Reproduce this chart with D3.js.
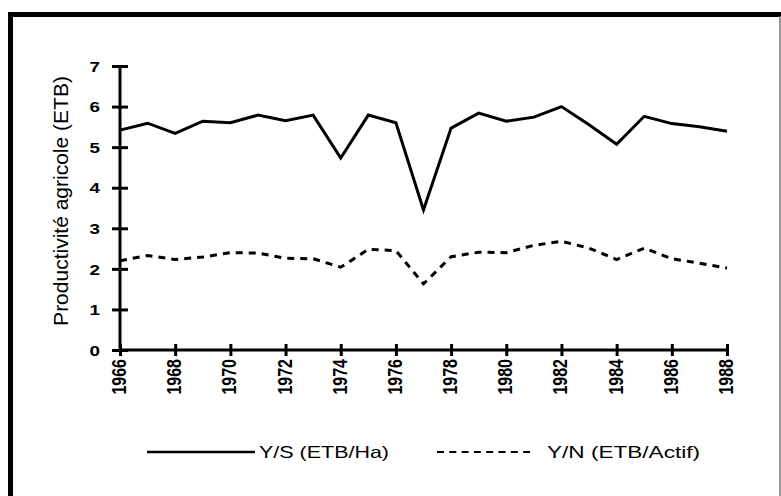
<!DOCTYPE html>
<html><head><meta charset="utf-8">
<script src="https://cdn.jsdelivr.net/npm/d3@7"></script>
<style>html,body{margin:0;padding:0;background:#fff;}svg{display:block;}</style>
</head><body>
<script>
const years = [1966,1967,1968,1969,1970,1971,1972,1973,1974,1975,1976,1977,1978,1979,1980,1981,1982,1983,1984,1985,1986,1987,1988];
const ySeries = [5.42,5.59,5.34,5.64,5.6,5.79,5.65,5.79,4.73,5.79,5.6,3.45,5.47,5.84,5.64,5.74,6.0,5.55,5.07,5.76,5.58,5.5,5.39];
const nSeries = [2.2,2.33,2.23,2.29,2.4,2.39,2.26,2.25,2.04,2.48,2.45,1.63,2.3,2.41,2.4,2.58,2.68,2.51,2.23,2.51,2.25,2.14,2.02];
const yTicks = [0,1,2,3,4,5,6,7];
const xTicks = [1966,1968,1970,1972,1974,1976,1978,1980,1982,1984,1986,1988];
const seriesNames = ["Y/S (ETB/Ha)", "Y/N (ETB/Actif)"];
const yTitle = "Productivité agricole (ETB)";

const W = 781, H = 496;
const svg = d3.select("body").append("svg").attr("width", W).attr("height", H);
const font = "'Liberation Sans', Arial, sans-serif";

// frame
svg.append("line").attr("x1", 8).attr("x2", 781).attr("y1", 14.5).attr("y2", 14.5).attr("stroke", "#000").attr("stroke-width", 5);
svg.append("line").attr("x1", 10.5).attr("x2", 10.5).attr("y1", 12).attr("y2", 496).attr("stroke", "#000").attr("stroke-width", 5);
svg.append("line").attr("x1", 780).attr("x2", 780).attr("y1", 16).attr("y2", 496).attr("stroke", "#777").attr("stroke-width", 1.5);

const x = d3.scaleLinear().domain([1966, 1988]).range([120, 727]);
const y = d3.scaleLinear().domain([0, 7]).range([350, 66]);

// y axis
const gy = svg.append("g").attr("transform", `translate(${x(1966)},0)`)
  .call(d3.axisLeft(y).tickValues(yTicks).tickSize(8).tickFormat(""));
gy.select(".domain").attr("stroke", "#000").attr("stroke-width", 3).attr("d", `M0,${y(0)}V${y(7)}`);
gy.selectAll(".tick line").attr("x1", -8).attr("x2", 8).attr("stroke", "#000").attr("stroke-width", 3);
gy.selectAll(".tick").append("text")
  .attr("transform", "translate(-20,0) scale(1.3,1)")
  .attr("text-anchor", "end").attr("dy", "0.36em")
  .attr("fill", "#000").attr("font-family", font).attr("font-weight", "bold").attr("font-size", 14.5)
  .text(d => d);

// x axis
const gx = svg.append("g").attr("transform", `translate(0,${y(0)})`)
  .call(d3.axisBottom(x).tickValues(xTicks).tickSize(6).tickFormat(""));
gx.select(".domain").attr("stroke", "#000").attr("stroke-width", 3).attr("d", `M${x(1966)},0H${x(1988)}`);
gx.selectAll(".tick line").attr("y1", -6).attr("y2", 6).attr("stroke", "#000").attr("stroke-width", 3);
gx.selectAll(".tick").append("text")
  .attr("transform", "translate(-2,9) scale(1.3,1) rotate(-90)")
  .attr("text-anchor", "end").attr("dy", "0.36em")
  .attr("fill", "#000").attr("font-family", font).attr("font-weight", "bold").attr("font-size", 16)
  .text(d => d);

// y title
svg.append("text").attr("transform", `translate(68,201) rotate(-90)`)
  .attr("text-anchor", "middle").attr("font-family", font).attr("font-size", 21).attr("fill", "#000")
  .text(yTitle);

// lines
const line = d3.line().x((d, i) => x(years[i])).y(d => y(d));
svg.append("path").datum(ySeries).attr("d", line).attr("fill", "none").attr("stroke", "#000")
  .attr("stroke-width", 3).attr("stroke-linejoin", "miter");
svg.append("path").datum(nSeries).attr("d", line).attr("fill", "none").attr("stroke", "#000")
  .attr("stroke-width", 3).attr("stroke-dasharray", "7,6");

// legend
const ly = 452;
svg.append("line").attr("x1", 147).attr("x2", 255).attr("y1", ly).attr("y2", ly).attr("stroke", "#000").attr("stroke-width", 2.5);
svg.append("text").attr("x", 259).attr("y", ly).attr("dy", "0.36em").attr("font-family", font).attr("font-size", 16.5)
  .attr("textLength", 130).attr("lengthAdjust", "spacingAndGlyphs").attr("fill", "#000").text(seriesNames[0]);
svg.append("line").attr("x1", 437).attr("x2", 533).attr("y1", ly).attr("y2", ly).attr("stroke", "#000").attr("stroke-width", 2).attr("stroke-dasharray", "7,5.3");
svg.append("text").attr("x", 547).attr("y", ly).attr("dy", "0.36em").attr("font-family", font).attr("font-size", 16.5)
  .attr("textLength", 153).attr("lengthAdjust", "spacingAndGlyphs").attr("fill", "#000").text(seriesNames[1]);
</script>
</body></html>
